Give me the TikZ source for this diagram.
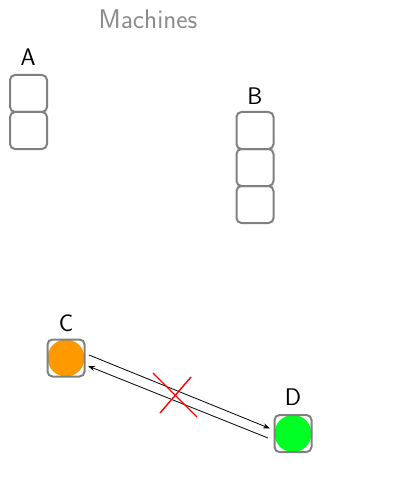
\documentclass[tikz,border=0pt]{standalone}
\usetikzlibrary{calc,arrows.meta}
\definecolor{slotgray}{RGB}{128,128,128}
\definecolor{titlegray}{RGB}{140,140,140}
\definecolor{busyorange}{RGB}{255,153,0}
\definecolor{idlegreen}{RGB}{0,255,34}
\begin{document}
\begin{tikzpicture}[x=1pt,y=-1pt,
  slot/.style={draw=slotgray,line width=2pt,rounded corners=5pt,minimum size=37pt,inner sep=0pt},
  tag/.style={font=\sffamily\fontsize{24}{28}\selectfont,inner sep=0pt},
  link/.style={line width=0.8pt,-{Stealth[length=7pt,width=5pt]}},
  cross/.style={red,line width=1.4pt}]
\useasboundingbox (0,0) rectangle (403,484);
\node[font=\sffamily\fontsize{27}{30}\selectfont,text=titlegray] (title) at (148,19) {Machines};
% machine A
\node[tag] (Alab) at (28,57) {A};
\node[slot] (A1) at (28.5,93.5) {};
\node[slot] (A2) at (28.5,130.5) {};
% machine B
\node[tag] (Blab) at (255,96.5) {B};
\node[slot] (B1) at (255,130.5) {};
\node[slot] (B2) at (255,167.5) {};
\node[slot] (B3) at (255,204.5) {};
% machine C
\node[tag] (Clab) at (66,323) {C};
\fill[busyorange] (66,358) circle (18.5);
\node[slot] (C) at (66,358) {};
% machine D
\node[tag] (Dlab) at (293,397.5) {D};
\fill[idlegreen] (293,433.5) circle (18.5);
\node[slot] (D) at (293,433.5) {};
% messages between C and D
\draw[link] ($(C)+(23,-3)$) -- ($(D)+(-23,-5)$);
\draw[link] ($(D)+(-25,4.5)$) -- ($(C)+(22,8)$);
% blocked channel
\coordinate (X) at (175,395);
\draw[cross] ($(X)+(-22,-22)$) -- ($(X)+(22,22)$);
\draw[cross] ($(X)+(-15,18)$) -- ($(X)+(16,-18)$);
\end{tikzpicture}
\end{document}
